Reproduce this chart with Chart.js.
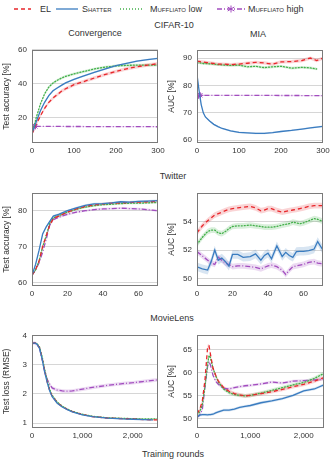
<!DOCTYPE html>
<html>
<head>
<meta charset="utf-8">
<script src="https://cdn.jsdelivr.net/npm/chart.js@4.4.1/dist/chart.umd.min.js"></script>
<style>
  body { margin: 0; background: #fff; }
  #wrap { position: relative; width: 334px; height: 462px; overflow: hidden;
          font-family: "Liberation Sans", Arial, sans-serif; color: #333; }
  canvas { position: absolute; }
  .t { position: absolute; font-size: 9px; white-space: nowrap; transform: translate(-50%, -50%); }
  .lg { position: absolute; font-size: 9px; white-space: nowrap; top: 4px; line-height: 10px; }
  .sc { font-variant: small-caps; }
  svg { position: absolute; }
</style>
</head>
<body>
<div id="wrap">
  <!-- legend -->
  <svg style="left:12px;top:5px" width="20" height="8"><line x1="2" y1="4" x2="19" y2="4" stroke="#e8262b" stroke-width="1.3" stroke-dasharray="4,3"/></svg>
  <span class="lg" style="left:40px">EL</span>
  <svg style="left:55px;top:5px" width="24" height="8"><line x1="1" y1="4" x2="23" y2="4" stroke="#3a7cc0" stroke-width="1.3"/></svg>
  <span class="lg sc" style="left:82px">Shatter</span>
  <svg style="left:119px;top:5px" width="26" height="8"><line x1="1" y1="4" x2="25" y2="4" stroke="#43b04a" stroke-width="1.3" stroke-dasharray="1,2"/></svg>
  <span class="lg" style="left:150px"><span class="sc">Muffliato</span> low</span>
  <svg style="left:216px;top:1px" width="30" height="16"><line x1="1" y1="8" x2="29" y2="8" stroke="#a24dbf" stroke-width="1.3" stroke-dasharray="5,2,1,2"/>
    <g stroke="#a24dbf" stroke-width="1"><line x1="15" y1="4.5" x2="15" y2="11.5"/><line x1="11.7" y1="6" x2="18.3" y2="10"/><line x1="11.7" y1="10" x2="18.3" y2="6"/></g></svg>
  <span class="lg" style="left:248px"><span class="sc">Muffliato</span> high</span>

  <div class="t" style="left:174px;top:25px">CIFAR-10</div>
  <div class="t" style="left:95px;top:33px">Convergence</div>
  <div class="t" style="left:258px;top:34px">MIA</div>
  <div class="t" style="left:173px;top:176px">Twitter</div>
  <div class="t" style="left:172px;top:318px">MovieLens</div>
  <div class="t" style="left:173px;top:454px">Training rounds</div>

  <canvas id="cifar-conv" width="170" height="120" style="left:0;top:40px"></canvas>
  <canvas id="cifar-mia" width="169" height="120" style="left:165px;top:40px"></canvas>
  <canvas id="tw-conv" width="170" height="120" style="left:0;top:183px"></canvas>
  <canvas id="tw-mia" width="169" height="120" style="left:165px;top:183px"></canvas>
  <canvas id="ml-loss" width="170" height="120" style="left:0;top:325px"></canvas>
  <canvas id="ml-mia" width="169" height="120" style="left:165px;top:325px"></canvas>
</div>

<script>
// CIFAR-10 convergence
const cifarConvRounds = [0, 5, 10, 20, 30, 40, 50, 60, 70, 80, 100, 120, 150, 175, 200, 225, 250, 275, 300];
const cifarConvEL      = [10.5, 13, 16, 21, 25.5, 29, 31.5, 33.5, 35.5, 37, 39.4, 41, 43.5, 45.5, 47.2, 48.8, 50, 51, 51.8];
const cifarConvShatter = [11, 14, 17.5, 24, 29, 33, 35.8, 37.5, 39, 40.5, 42.6, 44.3, 46.8, 48.8, 50.6, 52, 53.3, 54.2, 55];
const cifarConvLow     = [11, 15, 20, 28, 34, 38, 40.4, 42, 43.3, 44.3, 45.8, 47, 48.8, 49.8, 50.5, 50.8, 51, 51, 51];
const cifarHighRounds  = [0, 4, 8, 300];
const cifarConvHigh    = [10, 14.5, 14.8, 14.6];
const cifarConvSpread  = [1.0, 0.5, 0.8, 0.3];
const cifarConvTicks   = [20, 40, 60];

// CIFAR-10 MIA
const cifarMiaRounds  = [0, 5, 10, 15, 20, 30, 40, 50, 60, 80, 100, 120, 140, 160, 180, 200, 225, 250, 270, 285, 300];
const cifarMiaEL      = [88.8, 88.8, 88.6, 88.5, 88.4, 88.2, 88.0, 87.8, 87.8, 87.6, 87.8, 88.1, 88.4, 88.2, 87.8, 88.6, 88.7, 89.1, 90.0, 89.1, 90.0];
const cifarMiaShatter = [84, 78, 73, 70, 68.5, 67, 65.8, 65, 64.3, 63.4, 62.9, 62.7, 62.5, 62.5, 62.8, 63.2, 63.6, 64.1, 64.5, 64.8, 65.1];
const cifarMiaLow     = [88.2, 88.3, 88.1, 88.0, 88.0, 87.9, 87.8, 87.6, 87.5, 87.3, 87.4, 86.8, 87.0, 86.5, 86.8, 87.0, 86.3, 86.6, 86.4, 86.0, null];
const cifarMiaHigh    = [74.8, 76.2, 76.4, 76.3];
const cifarMiaSpread  = [0.6, 0.3, 0.5, 0.2];
const cifarMiaTicks   = [60, 70, 80, 90];
const cifarRoundTicks = [0, 100, 200, 300];

// Twitter convergence
const twConvRounds  = [0, 2, 4, 6, 8, 10, 12, 15, 20, 25, 30, 35, 40, 45, 50, 55, 60, 65, 71];
const twConvEL      = [62, 63.5, 66, 70, 73, 76, 77.8, 78.5, 79.6, 80.5, 81.2, 81.6, 81.9, 82.1, 82.2, 82.3, 82.4, 82.5, 82.6];
const twConvShatter = [62, 65, 69, 73.5, 75.5, 77, 78.5, 79, 80, 80.8, 81.5, 81.9, 82, 82.2, 82.5, 82.4, 82.6, 82.7, 82.8];
const twConvLow     = [62, 63.5, 66, 70, 73, 76.5, 78, 78.6, 79.6, 80.4, 81.0, 81.4, 81.7, 81.8, 82.0, 82.1, 82.1, 82.2, 82.3];
const twConvHigh    = [62, 63.5, 65.5, 68.5, 72, 76, 77.5, 78.2, 79.0, 79.6, 80.0, 80.3, 80.5, 80.6, 80.7, 80.6, 80.5, 80.3, 80.0];
const twConvSpread  = [0.3, 0.3, 0.3, 0.3];
const twConvTicks   = [60, 70, 80];

// Twitter MIA
const twMiaRounds  = [0, 3, 6, 8, 10, 12, 14, 16, 18, 20, 23, 26, 30, 33, 36, 38, 40, 42, 45, 48, 50, 52, 54, 56, 58, 60, 63, 66, 68, 71];
const twMiaEL      = [53.2, 53.7, 54.05, 54.25, 54.45, 54.55, 54.65, 54.75, 54.85, 54.9, 54.95, 55.0, 55.05, 54.95, 54.75, 54.8, 54.9, 54.9, 54.75, 54.65, 54.7, 54.75, 54.8, 54.85, 54.9, 54.95, 55.05, 55.1, 55.1, 55.1];
const twMiaShatter = [50.84, 50.7, 50.61, 51.2, 52.0, 51.3, 51.45, 51.2, 50.88, 51.7, 51.7, 51.5, 51.55, 51.74, 51.3, 51.63, 51.79, 51.4, 52.3, 51.56, 51.85, 51.63, 51.5, 51.9, 51.92, 51.92, 51.97, 52.08, 52.6, 52.0];
const twMiaLow     = [52.4, 52.9, 53.3, 53.4, 53.4, 53.2, 53.15, 53.3, 53.5, 53.65, 53.7, 53.7, 53.75, 53.7, 53.65, 53.6, 53.6, 53.6, 53.65, 53.75, 53.8, 53.85, 53.95, 53.9, 53.85, 53.9, 54.05, 54.2, 54.15, 54.0];
const twMiaHigh    = [51.9, 51.6, 51.3, 51.1, 51.0, 51.5, 51.3, 51.1, 51.0, 50.85, 50.9, 50.9, 50.85, 50.8, 50.7, 50.8, 50.9, 50.95, 50.85, 50.6, 50.3, 50.6, 50.85, 50.9, 50.95, 51.0, 51.15, 51.2, 51.1, 51.05];
const twMiaSpread  = [0.2, 0.3, 0.2, 0.2];
const twMiaTicks   = [50, 52, 54];
const twRoundTicks = [0, 20, 40, 60];

// MovieLens loss
const mlLossRounds  = [0, 50, 100, 150, 200, 250, 300, 350, 400, 500, 600, 700, 800, 1000, 1200, 1500, 1800, 2000, 2200, 2400, 2500];
const mlLossEL      = [3.72, 3.74, 3.71, 3.57, 3.22, 2.78, 2.42, 2.12, 1.92, 1.7, 1.56, 1.47, 1.39, 1.29, 1.22, 1.17, 1.15, 1.14, 1.12, 1.11, 1.11];
const mlLossShatter = [3.72, 3.74, 3.7, 3.55, 3.2, 2.75, 2.4, 2.1, 1.9, 1.68, 1.55, 1.46, 1.38, 1.28, 1.22, 1.17, 1.14, 1.13, 1.12, 1.11, null];
const mlLossLow     = [3.72, 3.74, 3.72, 3.6, 3.28, 2.85, 2.48, 2.16, 1.95, 1.72, 1.58, 1.48, 1.4, 1.3, 1.23, 1.18, 1.16, 1.15, 1.14, 1.14, 1.14];
const mlLossHigh    = [3.72, 3.74, 3.7, 3.55, 3.2, 2.78, 2.5, 2.33, 2.2, 2.13, 2.1, 2.09, 2.1, 2.16, 2.22, 2.29, 2.35, 2.38, 2.42, 2.46, 2.48];
const mlLossSpread  = [0.02, 0.02, 0.02, 0.06];
const mlLossTicks   = [1, 2, 3, 4];

// MovieLens MIA
const mlMiaRounds  = [0, 50, 100, 150, 200, 225, 250, 300, 350, 400, 500, 600, 700, 800, 900, 1000, 1200, 1400, 1600, 1800, 2000, 2200, 2380];
const mlMiaEL      = [51.1, 52, 53.9, 58.5, 65.8, 65.9, 64.2, 61.0, 59.5, 58.2, 56.8, 56, 55.5, 55.2, 55.0, 55.1, 55.5, 55.9, 56.4, 57.0, 57.5, 58.2, 59.0];
const mlMiaShatter = [50.4, 50.8, 50.9, 50.9, 50.85, 50.9, 50.9, 51.0, 51.3, 51.5, 51.9, 51.9, 52.1, 52.5, 52.7, 52.9, 53.5, 53.9, 54.4, 55.1, 56.1, 56.5, 57.4];
const mlMiaLow     = [50.8, 51.5, 53.0, 57.0, 62.0, 63.8, 63.4, 61.0, 59.4, 58.0, 56.5, 55.7, 55.3, 55.1, 55.0, 55.1, 55.6, 56.2, 56.8, 57.4, 57.9, 58.8, 59.9];
const mlMiaHigh    = [50.3, 50.8, 52.0, 57.0, 61.5, 62.5, 61.8, 59.5, 58.2, 57.5, 56.6, 56.5, 56.8, 57.0, 57.2, 57.3, 57.6, 58.0, 57.8, 58.2, 58.3, 58.5, 58.6];
const mlMiaSpread  = [0.4, 0.3, 0.4, 0.3];
const mlMiaTicks   = [50, 55, 60, 65];
const mlRoundTicks = [0, 1000, 2000];

const highMarkerRadius = [0, 3, 3, 0];

const colors = ['#e8262b', '#3a7cc0', '#43b04a', '#a24dbf'];
const bands  = ['rgba(232,38,43,0.2)', 'rgba(58,124,192,0.2)', 'rgba(67,176,74,0.2)', 'rgba(162,77,191,0.2)'];
const dashes = [[4, 3], [], [1, 2], [5, 2, 1, 2]];
const lineOrder = [1, 0, 2, 3];
const textColor = '#333';
const tickFont = { family: '"Liberation Sans", Arial, sans-serif', size: 8 };

// cadre autour de la zone du graphe
const framePlugin = {
    id: 'frame',
    afterDatasetsDraw(chart) {
        const a = chart.chartArea;
        const ctx = chart.ctx;
        ctx.save();
        ctx.strokeStyle = '#7a7a7a';
        ctx.lineWidth = 1;
        ctx.strokeRect(Math.round(a.left) + 0.5, Math.round(a.top) + 0.5,
            Math.round(a.width) - 1, Math.round(a.height) - 1);
        ctx.restore();
    }
};

function pts(xs, ys) {
    return ys.map((y, i) => ({ x: xs[i], y: y }));
}

function fmt(v) {
    return v.toLocaleString('en-US');
}

function makePanel(id, p) {
    const datasets = [];
    p.series.forEach((ys, k) => {
        const xs = p.xs[k];
        const s = p.spread[k];
        datasets.push({
            data: pts(xs, ys.map(v => v === null ? null : v - s)),
            borderWidth: 0, pointRadius: 0, fill: false, order: 10
        });
        datasets.push({
            data: pts(xs, ys.map(v => v === null ? null : v + s)),
            borderWidth: 0, pointRadius: 0, fill: '-1', backgroundColor: bands[k], order: 10
        });
    });
    p.series.forEach((ys, k) => {
        datasets.push({
            data: pts(p.xs[k], ys),
            borderColor: colors[k],
            backgroundColor: colors[k],
            borderWidth: 1.3,
            borderDash: dashes[k],
            borderCapStyle: k === 2 ? 'round' : 'butt',
            pointRadius: (k === 3 && p.markers) ? highMarkerRadius : 0,
            pointStyle: 'star',
            pointBorderWidth: 1,
            pointBorderColor: colors[k],
            fill: false,
            order: lineOrder[k]
        });
    });

    new Chart(document.getElementById(id), {
        type: 'line',
        data: { datasets: datasets },
        plugins: [framePlugin],
        options: {
            responsive: false,
            animation: false,
            events: [],
            layout: { autoPadding: false, padding: { left: 0, right: p.right, top: p.top, bottom: 0 } },
            plugins: { legend: { display: false }, tooltip: { enabled: false } },
            elements: { line: { tension: 0 } },
            scales: {
                x: {
                    type: 'linear', min: p.xMin, max: p.xMax,
                    ticks: { font: tickFont, color: textColor, padding: 3, autoSkip: false, maxRotation: 0,
                             callback: v => fmt(v) },
                    afterBuildTicks: s => { s.ticks = p.xTicks.map(v => ({ value: v })); },
                    grid: { display: false, drawTicks: false },
                    border: { display: false },
                    afterFit: s => { s.height = 17; }
                },
                y: {
                    type: 'linear', min: p.yMin, max: p.yMax,
                    ticks: { font: tickFont, color: textColor, padding: 5, autoSkip: false,
                             callback: v => fmt(v) },
                    afterBuildTicks: s => { s.ticks = p.yTicks.map(v => ({ value: v })); },
                    grid: { color: '#d6d6d6', lineWidth: 1, drawTicks: false },
                    border: { display: false },
                    title: { display: true, text: p.yTitle, color: textColor,
                             font: { family: '"Liberation Sans", Arial, sans-serif', size: 8.5 },
                             padding: { top: 2, bottom: 0 } },
                    afterFit: s => { s.width = 32; }
                }
            }
        }
    });
}

makePanel('cifar-conv', {
    xs: [cifarConvRounds, cifarConvRounds, cifarConvRounds, cifarHighRounds],
    series: [cifarConvEL, cifarConvShatter, cifarConvLow, cifarConvHigh],
    spread: cifarConvSpread, markers: true,
    xMin: 0, xMax: 300, xTicks: cifarRoundTicks, yMin: 5, yMax: 60, yTicks: cifarConvTicks,
    yTitle: 'Test accuracy [%]', right: 12, top: 7
});
makePanel('cifar-mia', {
    xs: [cifarMiaRounds, cifarMiaRounds, cifarMiaRounds, cifarHighRounds],
    series: [cifarMiaEL, cifarMiaShatter, cifarMiaLow, cifarMiaHigh],
    spread: cifarMiaSpread, markers: true,
    xMin: 0, xMax: 300, xTicks: cifarRoundTicks, yMin: 59, yMax: 93, yTicks: cifarMiaTicks,
    yTitle: 'AUC [%]', right: 11, top: 7
});
makePanel('tw-conv', {
    xs: [twConvRounds, twConvRounds, twConvRounds, twConvRounds],
    series: [twConvEL, twConvShatter, twConvLow, twConvHigh],
    spread: twConvSpread, markers: false,
    xMin: 0, xMax: 71, xTicks: twRoundTicks, yMin: 59, yMax: 85, yTicks: twConvTicks,
    yTitle: 'Test accuracy [%]', right: 12, top: 8
});
makePanel('tw-mia', {
    xs: [twMiaRounds, twMiaRounds, twMiaRounds, twMiaRounds],
    series: [twMiaEL, twMiaShatter, twMiaLow, twMiaHigh],
    spread: twMiaSpread, markers: false,
    xMin: 0, xMax: 71, xTicks: twRoundTicks, yMin: 49.5, yMax: 56, yTicks: twMiaTicks,
    yTitle: 'AUC [%]', right: 11, top: 8
});
makePanel('ml-loss', {
    xs: [mlLossRounds, mlLossRounds, mlLossRounds, mlLossRounds],
    series: [mlLossEL, mlLossShatter, mlLossLow, mlLossHigh],
    spread: mlLossSpread, markers: false,
    xMin: 0, xMax: 2500, xTicks: mlRoundTicks, yMin: 0.83, yMax: 4.02, yTicks: mlLossTicks,
    yTitle: 'Test loss (RMSE)', right: 12, top: 8
});
makePanel('ml-mia', {
    xs: [mlMiaRounds, mlMiaRounds, mlMiaRounds, mlMiaRounds],
    series: [mlMiaEL, mlMiaShatter, mlMiaLow, mlMiaHigh],
    spread: mlMiaSpread, markers: false,
    xMin: 0, xMax: 2380, xTicks: mlRoundTicks, yMin: 48, yMax: 68.3, yTicks: mlMiaTicks,
    yTitle: 'AUC [%]', right: 10, top: 8
});
</script>
</body>
</html>
